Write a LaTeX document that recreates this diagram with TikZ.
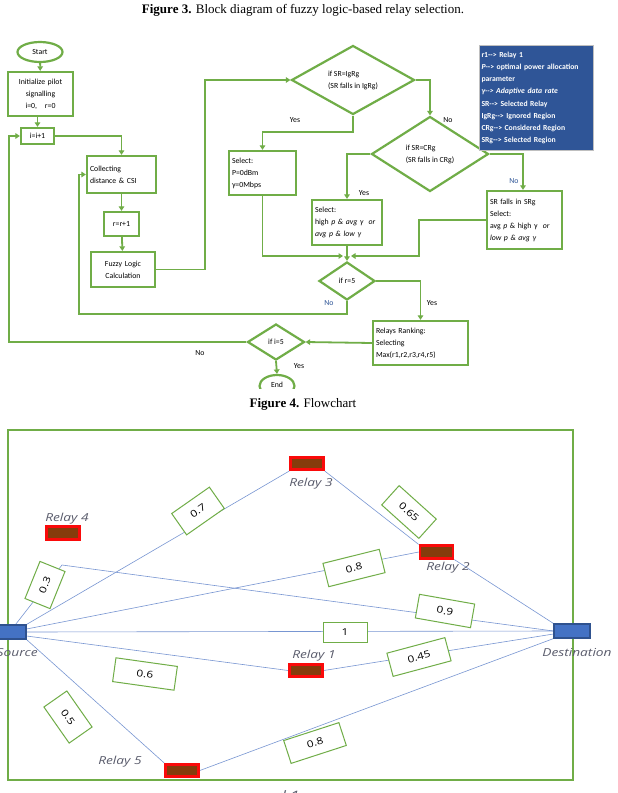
\documentclass[tikz,border=0pt]{standalone}
\usepackage{fontspec}
\setmainfont{Liberation Serif}
\newfontfamily\fcfont{Carlito}
\newfontfamily\netfont[FakeStretch=1.25]{Open Sans}
\usetikzlibrary{shapes.geometric,arrows.meta,calc}
\definecolor{fgreen}{RGB}{112,173,71}
\definecolor{legblue}{RGB}{47,85,151}
\definecolor{lineblue}{RGB}{120,150,210}
\definecolor{srcblue}{RGB}{68,114,196}
\definecolor{srcedge}{RGB}{47,82,143}
\definecolor{relbrown}{RGB}{133,60,12}
\definecolor{relred}{RGB}{250,10,10}
\definecolor{labgray}{RGB}{90,92,108}
\definecolor{noblue}{RGB}{47,85,151}
\tikzset{
  fbox/.style={draw=fgreen, line width=2.2pt, fill=white, inner sep=3pt,
    font=\fcfont\fontsize{7.8}{12}\selectfont},
  fell/.style={ellipse, draw=fgreen, line width=2.2pt, fill=white, inner sep=0pt,
    font=\fcfont\fontsize{7.8}{9}\selectfont},
  fdia/.style={diamond, draw=fgreen, line width=2.2pt, fill=white, inner sep=0pt,
    align=left, font=\fcfont\fontsize{7.8}{12}\selectfont},
  farr/.style={draw=fgreen, line width=1.8pt, -{Triangle[width=5.5pt,length=4.5pt]}},
  flab/.style={font=\fcfont\fontsize{7.8}{9}\selectfont, inner sep=0pt},
  legbox/.style={draw=black!25, line width=1pt, fill=legblue, text=white, align=left,
    text width=110pt, minimum height=105pt, inner sep=2pt, anchor=north west,
    font=\fcfont\bfseries\fontsize{7.7}{12.2}\selectfont},
  relay/.style={draw=relred, fill=relbrown, line width=2.6pt, minimum width=33pt,
    minimum height=12.5pt, inner sep=0pt},
  rlab/.style={font=\netfont\itshape\fontsize{11}{13}\selectfont, text=labgray, inner sep=0pt},
  wbox/.style={draw=fgreen, fill=white, line width=1pt, inner sep=0pt,
    font=\netfont\fontsize{9.5}{11}\selectfont},
  nline/.style={draw=lineblue, line width=0.6pt},
  term/.style={draw=srcedge, fill=srcblue, line width=1.2pt, minimum width=36pt,
    minimum height=14pt, inner sep=0pt},
  capt/.style={font=\fontsize{13}{15}\selectfont, inner sep=0pt}
}
\begin{document}
\begin{tikzpicture}[x=1pt,y=-1pt]
\fill[white] (0,0) rectangle (618,793);
\useasboundingbox (0,0) rectangle (618,793);

% ---------------- Figure 3 caption
\node[capt] (cap3) at (303,10) {\textbf{Figure 3.} Block diagram of fuzzy logic-based relay selection.};

% ---------------- flowchart nodes
\node[fell, minimum width=45pt, minimum height=20pt] (start) at (40,52) {Start};
\node[fbox, align=center, text width=59pt, minimum height=44pt] (init) at (40.5,94)
  {Initialize pilot\\signalling\\i=0,\ \ \ r=0};
\node[fbox, minimum width=33pt, minimum height=16pt, inner sep=1pt] (inc) at (37.5,136) {i=i+1};
\node[fbox, align=left, text width=63pt, minimum height=37pt] (coll) at (121.5,174.5)
  {Collecting\\distance \& CSI};
\node[fbox, minimum width=35pt, minimum height=24pt] (rinc) at (121.5,224) {r=r+1};
\node[fbox, align=center, text width=58pt, minimum height=35pt] (fuzzy) at (123,269.5)
  {Fuzzy Logic\\Calculation};
\node[fdia, minimum width=123pt, minimum height=69pt] (d1) at (353,80)
  {if SR=IgRg\\(SR falls in IgRg)};
\node[fbox, align=left, text width=61pt, minimum height=44pt] (sel1) at (262.5,173)
  {Select:\\P=0dBm\\γ=0Mbps};
\node[fdia, minimum width=117pt, minimum height=75pt] (d2) at (430,154)
  {if SR=CRg\\(SR falls in CRg)};
\node[fbox, align=left, text width=64pt, minimum height=45pt] (sel2) at (347,222.5)
  {Select:\\high \textit{p \& avg γ\ \ or}\\\textit{avg p \& low γ}};
\node[fbox, align=left, text width=69pt, minimum height=58pt] (sel3) at (524.5,220)
  {SR falls in SRg\\Select:\\avg \textit{p} \& high γ\ \ \textit{or}\\\textit{low p \& avg γ}};
\node[fdia, minimum width=56pt, minimum height=38pt] (d3) at (347,281) {if r=5};
\node[fbox, align=left, text width=89pt, minimum height=44pt] (rank) at (420.5,343)
  {Relays Ranking:\\Selecting\\Max(r1,r2,r3,r4,r5)};
\node[fdia, minimum width=57pt, minimum height=36pt] (d4) at (276,342) {if i=5};
\begin{scope}
  \clip (0,0) rectangle (618,388);
  \node[fell, minimum width=35pt, minimum height=22pt] (end) at (277,386) {\raisebox{2pt}{End}};
\end{scope}

% legend
\node[legbox] (leg) at (479,45)
  {r1--{}> Relay 1\\\textit{P}--{}> optimal power allocation\\parameter\\
   \textit{γ--{}> Adaptive data rate}\\SR--{}> Selected Relay\\IgRg--{}> Ignored Region\\
   CRg--{}> Considered Region\\SRg--{}> Selected Region};

% ---------------- flowchart connectors
\coordinate (c1) at (205,0);
\coordinate (jy) at (0,132);
\coordinate (jn) at (347,256);
\coordinate (c2) at (419,0);
\coordinate (c3) at (79,314);
\coordinate (c4) at (9,0);
\draw[farr] (start) -- (init);
\draw[farr] (init.south -| inc.north) -- (inc.north);
\draw[farr] (inc.east) -| (coll.north);
\draw[farr] (coll) -- (rinc);
\draw[farr] (rinc) -- (fuzzy);
\draw[farr] (fuzzy.east) -- (fuzzy.east -| c1) -- (c1 |- d1.west) -- (d1.west);
\draw[farr] (d1.south) -- (d1.south |- jy) -| (sel1.north);
\draw[farr] (d1.east) -| (d2.north);
\draw[farr] (d2.west) -| (sel2.north);
\draw[farr] (d2.east) -| ($(sel3.north)+(-1.5,0)$);
\draw[farr] (sel1.south) |- ($(jn)+(-4,0)$);
\draw[farr] (sel2.south) -- (d3.north);
\draw[farr] (sel3.west) -- (sel3.west -| c2) |- ($(jn)+(4,0)$);
\draw[farr] (d3.east) -| (rank.north);
\draw[farr] (d3.south) |- (c3) |- (coll.west);
\draw[farr] (rank.west) -- (d4.east);
\draw[farr] (d4.west) -- (d4.west -| c4) |- (inc.west);
\draw[farr] (d4.south) -- (end.north);

% flowchart labels
\node[flab] (l1) at (295,120) {Yes};
\node[flab] (l2) at (448,120) {No};
\node[flab] (l3) at (364,193) {Yes};
\node[flab, text=noblue] (l4) at (514,181) {No};
\node[flab, text=noblue] (l5) at (329,303) {No};
\node[flab] (l6) at (432,303) {Yes};
\node[flab] (l7) at (200,353) {No};
\node[flab] (l8) at (299,366) {Yes};

% ---------------- Figure 4 caption
\node[capt] (cap4) at (303,404) {\textbf{Figure 4.} Flowchart};

% ---------------- network figure
\draw[fgreen, line width=1.5pt] (8,430) rectangle (573,780);

\node[term] (src) at (8,632) {};
\node[term] (dst) at (572,631) {};
\node[relay] (r3) at (307,463.5) {};
\node[relay] (r4) at (63,533) {};
\node[relay] (r2) at (436.5,552) {};
\node[relay] (r1) at (306,670.5) {};
\node[relay] (r5) at (182,770.5) {};
\coordinate (r4p) at (62,565);

\draw[nline] (src.north east) -- (r3.south west);
\draw[nline] (r3.south east) -- (r2.north west);
\draw[nline] (r2.south east) -- (dst.north west);
\draw[nline] ($(src.north east)+(-11,0)$) -- (r4p) -- (dst.west);
\draw[nline] ($(src.east)+(0,-3)$) -- (r2.west);
\draw[nline] (src.east) -- (dst.west);
\draw[nline] ($(src.east)+(0,4)$) -- (r1.west);
\draw[nline] (r1.east) -- ($(dst.west)+(0,3)$);
\draw[nline] (src.south east) -- (r5.north west);
\draw[nline] (r5.east) -- (dst.south west);

% redraw terminals and relays on top of lines
\node[term] at (src) {};
\node[term] at (dst) {};
\node[relay] at (r3) {};
\node[relay] at (r2) {};
\node[relay] at (r1) {};
\node[relay] at (r5) {};

% weight boxes
\node[wbox, minimum width=46pt, minimum height=26pt, rotate=35] (b07) at (198,511) {0.7};
\node[wbox, minimum width=50pt, minimum height=26pt, rotate=-42] (b065) at (409,512) {0.65};
\node[wbox, minimum width=40pt, minimum height=27pt, rotate=68] (b03) at (45,585) {0.3};
\node[wbox, minimum width=58pt, minimum height=24pt, rotate=14] (b08a) at (354,568) {0.8};
\node[wbox, minimum width=56pt, minimum height=24pt, rotate=-10] (b09) at (445,611) {0.9};
\node[wbox, minimum width=44pt, minimum height=20pt] (b1) at (345,632) {1};
\node[wbox, minimum width=60pt, minimum height=24pt, rotate=15] (b045) at (419,657) {0.45};
\node[wbox, minimum width=62pt, minimum height=24pt, rotate=-8] (b06) at (145,674) {0.6};
\node[wbox, minimum width=44pt, minimum height=28pt, rotate=-55] (b05) at (68,717) {0.5};
\node[wbox, minimum width=58pt, minimum height=24pt, rotate=18] (b08b) at (315,743) {0.8};

% relay and terminal labels
\node[rlab] (t3) at (311,484) {Relay 3};
\node[rlab] (t4) at (67,519) {Relay 4};
\node[rlab] (t2) at (448,568) {Relay 2};
\node[rlab] (t1) at (314,656) {Relay 1};
\node[rlab] (t5) at (120,762) {Relay 5};
\node[rlab, anchor=east] (ts) at (38,653) {Source};
\node[rlab] (td) at (577,653) {Destination};
\node[rlab, anchor=north, font=\netfont\itshape\fontsize{13}{15}\selectfont] (td1) at (288,790) {d 1};
\end{tikzpicture}
\end{document}
